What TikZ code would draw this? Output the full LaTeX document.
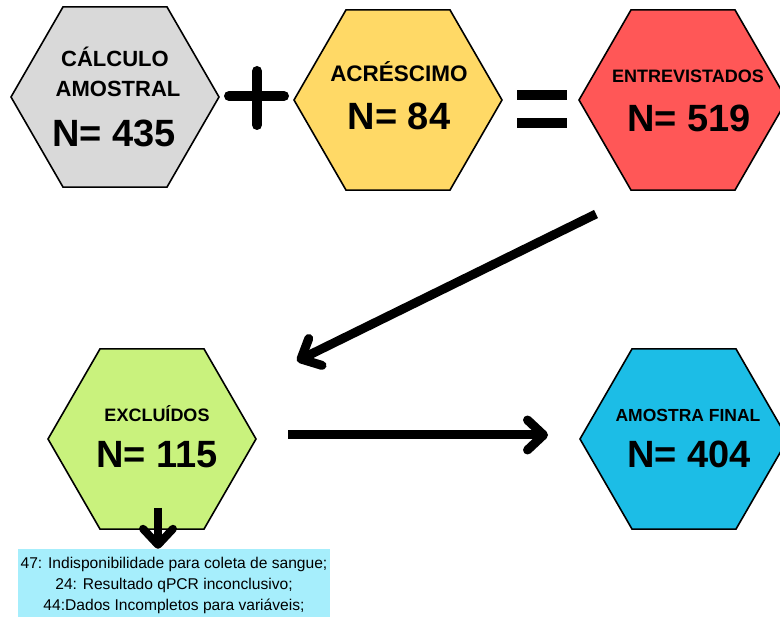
\documentclass[tikz,border=0pt]{standalone}
\usepackage{fontspec}
\setmainfont{Liberation Sans}
\usetikzlibrary{shapes.geometric,arrows.meta}

\definecolor{cinza}{HTML}{D9D9D9}
\definecolor{amarelo}{HTML}{FFD966}
\definecolor{vermelho}{HTML}{FF5757}
\definecolor{verde}{HTML}{C9F27D}
\definecolor{azul}{HTML}{1CBDE6}
\definecolor{ciano}{HTML}{A6EEFC}

\begin{document}
\begin{tikzpicture}[x=1pt, y=-1pt,
		hexa/.style={regular polygon, regular polygon sides=6, minimum size=208pt, inner sep=0pt, draw=black, line width=1.6pt},
		titulo/.style={anchor=base, font=\bfseries\fontsize{18}{20}\selectfont},
		numero/.style={anchor=base, font=\bfseries\fontsize{38}{40}\selectfont},
		seta/.style={line width=9pt, -{Straight Barb[round, length=16pt, width=30pt]}}]
			\useasboundingbox (0,0) rectangle (780,617);

			\node [hexa, fill=cinza] (calculo) at (115,97) {};
			\node [hexa, fill=amarelo] (acrescimo) at (398,100) {};
			\node [hexa, fill=vermelho] (entrevistados) at (683,100) {};
			\node [hexa, fill=verde] (excluidos) at (152,439) {};
			\node [hexa, fill=azul] (final) at (684,439) {};

			\node [titulo, font=\bfseries\fontsize{22}{24}\selectfont] (calculo1) at (115,67) {CÁLCULO};
			\node [titulo, font=\bfseries\fontsize{22}{24}\selectfont] (calculo2) at (118,97) {AMOSTRAL};
			\node [numero] (calculo3) at (114,147) {N= 435};

			\node [titulo, font=\bfseries\fontsize{22.5}{24}\selectfont] (acrescimo1) at (399,82) {ACRÉSCIMO};
			\node [numero] (acrescimo2) at (399,130) {N= 84};

			\node [titulo] (entrevistados1) at (688,83) {ENTREVISTADOS};
			\node [numero] (entrevistados2) at (689,132) {N= 519};

			\node [titulo] (excluidos1) at (157,422) {EXCLUÍDOS};
			\node [numero] (excluidos2) at (157,468) {N= 115};

			\node [titulo, font=\bfseries\fontsize{17.5}{20}\selectfont] (final1) at (688,422) {AMOSTRA FINAL};
			\node [numero] (final2) at (689,468) {N= 404};

			% + e =
			\draw [line width=10pt, line cap=round] (229,96) -- (284,96);
			\draw [line width=10pt, line cap=round] (257,71) -- (257,125);
			\fill (517,90) rectangle (567,100);
			\fill (517,118) rectangle (567,128);

			\node [fill=ciano, minimum width=312pt, minimum height=72pt, align=center, inner sep=0pt,
				font=\fontsize{15.6}{21}\selectfont] (motivos) at (174,585)
				{47: Indisponibilidade para coleta de sangue;\\ 24: Resultado qPCR inconclusivo;\\ 44:Dados Incompletos para variáveis;};

			\coordinate (d1) at (596,214);
			\coordinate (d2) at (297,361);
			\coordinate (h1) at (288,435);
			\coordinate (h2) at (548,435);
			\coordinate (b1) at (158,508);

			\draw [seta] (d1) -- (d2);
			\draw [seta] (h1) -- (h2);
			\draw [seta, line width=8pt] (b1) -- (b1 |- motivos.north);
		\end{tikzpicture}
\end{document}
